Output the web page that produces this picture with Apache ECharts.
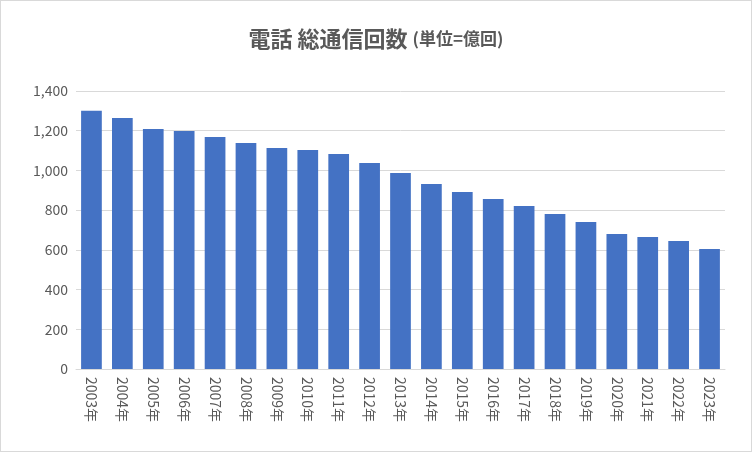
<!DOCTYPE html>
<html>
<head>
<meta charset="utf-8">
<script src="https://cdn.jsdelivr.net/npm/echarts@6/dist/echarts.min.js"></script>
<style>
  html, body { margin: 0; padding: 0; background: #fff; }
  #chart { width: 750px; height: 450px; border: 1px solid #d9d9d9; }
</style>
</head>
<body>
<div id="chart"></div>
<script>
var years = ['2003年', '2004年', '2005年', '2006年', '2007年', '2008年', '2009年', '2010年', '2011年', '2012年', '2013年',
    '2014年', '2015年', '2016年', '2017年', '2018年', '2019年', '2020年', '2021年', '2022年', '2023年'];
var calls = [1300, 1264, 1209, 1199, 1168, 1138, 1113, 1103, 1083, 1037, 987,
    932, 891, 856, 821, 781, 740, 680, 665, 645, 604];

var myChart = echarts.init(document.getElementById('chart'));

var option = {
    textStyle: { fontFamily: 'Noto Sans CJK JP' },
    title: {
        text: '{a|電話 総通信回数 }{b|(単位=億回)}',
        left: 'center',
        top: 22,
        textStyle: {
            rich: {
                a: { fontSize: 22, color: '#595959', fontFamily: 'Noto Sans CJK JP' },
                b: { fontSize: 17, color: '#595959', fontFamily: 'Noto Sans CJK JP' }
            }
        }
    },
    grid: { left: 75, right: 26, top: 90, bottom: 82 },
    xAxis: {
        type: 'category',
        data: years,
        axisLine: { lineStyle: { color: '#d9d9d9' } },
        axisTick: { show: false },
        axisLabel: { rotate: -90, color: '#595959', fontSize: 14, margin: 8 }
    },
    yAxis: {
        type: 'value',
        min: 0,
        max: 1400,
        interval: 200,
        axisLabel: {
            color: '#595959',
            fontSize: 14,
            formatter: function (v) { return v.toLocaleString('en-US'); }
        },
        splitLine: { lineStyle: { color: '#d9d9d9' } }
    },
    series: [{
        type: 'bar',
        data: calls,
        barWidth: '67%',
        itemStyle: { color: '#4472C4' }
    }]
};

myChart.setOption(option);
</script>
</body>
</html>
